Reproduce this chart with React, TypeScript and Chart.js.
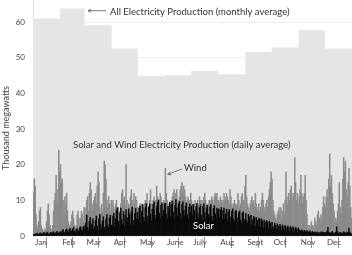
import React, { useEffect, useRef } from 'react';
import { Chart, registerables } from 'chart.js';

Chart.register(...registerables);

const monthLabels = ['Jan', 'Feb', 'Mar', 'Apr', 'May', 'June', 'July', 'Aug', 'Sept', 'Oct', 'Nov', 'Dec'];
const monthStartDays = [0, 31, 59, 90, 120, 151, 181, 212, 243, 273, 304, 334];
const yearDays = 365;
const monthlyAverage = [61, 63.8, 59.1, 52.6, 44.9, 45.1, 46.3, 45.4, 51.6, 52.9, 57.7, 52.6];
const yTicks = [0, 10, 20, 30, 40, 50, 60];

const windJan = [12, 16, 14, 6, 3, 2, 4, 7, 8, 3, 2, 1.5, 1, 2, 1.5, 4, 7, 9, 6, 3, 2, 1.5, 3, 7, 10, 12, 17, 13, 9, 24, 18];
const windFeb = [20, 15, 16, 10, 6, 11, 9, 12, 7, 4, 3, 2, 4, 6, 7, 5, 3, 2, 3, 6, 7, 5, 3, 5, 7, 6, 4, 8];
const windMar = [8, 6, 10, 11, 7, 12, 15, 13, 9, 7, 10, 11, 12, 9, 14, 18, 15, 8, 6, 9, 7, 12, 21, 20, 16, 10, 8, 11, 9, 7, 10];
const windApr = [9, 10, 8, 6, 9, 10, 7, 8, 6, 7, 9, 12, 13, 10, 11, 8, 20, 10, 7, 9, 8, 11, 13, 10, 8, 12, 9, 11, 10, 8];
const windMay = [7, 8, 9, 8, 9, 7, 8, 9, 10, 9, 12, 8, 7, 10, 13, 9, 8, 10, 11, 9, 10, 14, 11, 9, 10, 12, 11, 9, 8, 10, 9];
const windJun = [19, 12, 10, 9, 8, 7, 9, 10, 11, 12, 13, 11, 12, 13, 10, 9, 11, 13, 14, 15, 12, 14, 13, 11, 9, 10, 11, 9, 10, 12];
const windJul = [10, 9, 8, 9, 10, 8, 9, 10, 9, 11, 10, 9, 10, 9, 11, 12, 10, 9, 8, 9, 10, 9, 10, 11, 10, 9, 11, 12, 11, 12, 10];
const windAug = [10, 9, 11, 10, 9, 10, 12, 11, 10, 12, 11, 10, 9, 13, 11, 9, 8, 9, 10, 9, 8, 9, 12, 10, 8, 9, 11, 12, 10, 8, 14];
const windSep = [17, 11, 9, 8, 7, 9, 10, 11, 9, 10, 8, 12, 9, 7, 8, 9, 7, 8, 10, 12, 10, 8, 7, 9, 10, 8, 11, 13, 15, 18];
const windOct = [16, 10, 7, 6, 5, 4, 6, 7, 8, 6, 8, 5, 7, 9, 6, 10, 18, 11, 9, 12, 10, 13, 14, 10, 12, 11, 22, 15, 10, 12, 9];
const windNov = [11, 13, 17, 12, 9, 11, 12, 17, 10, 6, 3, 2, 3, 2, 4, 3, 2, 3, 5, 4, 3, 6, 7, 5, 4, 6, 5, 8, 11, 9];
const windDec = [8, 11, 13, 10, 16, 23, 14, 17, 12, 9, 7, 4, 5, 4, 7, 9, 15, 8, 6, 10, 16, 22, 18, 21, 13, 11, 15, 19, 14, 8, 5];

const solarJan = [0.4, 0.5, 0.3, 0.6, 0.8, 0.5, 0.4, 0.7, 0.9, 0.6, 0.5, 0.8, 1.0, 0.7, 0.5, 0.9, 1.1, 0.6, 0.4, 0.8, 1.0, 0.7, 0.9, 1.2, 0.8, 0.6, 1.0, 1.3, 0.9, 0.7, 1.1];
const solarFeb = [1.2, 0.9, 1.5, 1.8, 1.1, 0.8, 1.6, 2.0, 1.4, 1.0, 1.7, 2.2, 1.5, 1.2, 1.9, 2.4, 1.3, 1.0, 1.8, 2.1, 1.6, 1.2, 2.3, 2.6, 1.7, 1.4, 2.5, 2.8];
const solarMar = [1.8, 3.6, 5.9, 2.4, 1.5, 4.1, 5.2, 2.2, 3.4, 4.8, 1.9, 2.6, 4.4, 5.6, 2.8, 1.6, 4.9, 6.1, 3.2, 2.0, 4.2, 5.4, 2.5, 1.8, 4.6, 6.0, 3.1, 2.3, 5.1, 5.8, 3.0];
const solarApr = [3.1, 5.6, 6.4, 2.7, 4.9, 7.2, 7.9, 4.1, 3.0, 6.5, 7.8, 4.6, 3.4, 6.9, 2.8, 5.9, 7.4, 3.9, 5.1, 7.6, 6.0, 3.2, 6.8, 8.1, 4.4, 2.9, 6.3, 7.7, 4.8, 6.6];
const solarMay = [4.6, 7.8, 8.4, 3.9, 6.9, 8.8, 5.2, 4.1, 7.9, 9.1, 5.6, 3.8, 8.2, 9.0, 6.1, 4.3, 7.5, 8.9, 9.6, 5.8, 4.7, 8.3, 9.4, 10.1, 6.4, 5.0, 8.6, 9.3, 5.5, 7.2, 9.0];
const solarJun = [9.2, 6.1, 4.8, 8.3, 7.0, 9.5, 5.4, 8.9, 9.8, 6.7, 4.9, 8.6, 10.2, 7.8, 5.6, 9.0, 9.7, 6.3, 5.1, 8.8, 9.6, 7.2, 5.8, 8.4, 9.3, 6.0, 4.7, 8.1, 9.0, 6.5];
const solarJul = [8.4, 5.9, 8.9, 7.1, 4.6, 8.2, 9.1, 6.3, 4.9, 8.0, 8.7, 5.8, 4.4, 8.3, 9.0, 6.6, 4.8, 7.9, 8.6, 6.0, 5.2, 8.1, 8.8, 5.5, 4.3, 7.7, 8.5, 6.2, 4.9, 7.8, 7.2];
const solarAug = [7.6, 5.1, 7.3, 8.0, 4.6, 7.1, 7.8, 5.0, 6.2, 7.5, 4.3, 6.8, 7.4, 5.4, 3.9, 7.0, 7.6, 4.8, 4.1, 6.9, 7.2, 5.1, 3.8, 6.6, 7.0, 4.5, 3.6, 6.4, 6.8, 4.7, 3.9];
const solarSep = [6.3, 4.2, 3.5, 6.0, 5.4, 3.1, 5.8, 4.6, 2.9, 5.5, 5.0, 2.7, 5.2, 4.4, 2.6, 5.0, 4.7, 2.4, 4.8, 4.2, 2.3, 4.5, 4.0, 2.2, 4.3, 3.8, 2.0, 4.1, 3.6, 2.1];
const solarOct = [3.8, 2.6, 1.9, 3.6, 3.0, 1.7, 3.4, 2.8, 1.6, 3.3, 2.7, 1.5, 3.1, 2.5, 1.4, 3.0, 2.4, 1.3, 2.8, 2.3, 1.2, 2.7, 2.2, 1.2, 2.6, 2.0, 1.1, 2.4, 1.9, 1.0, 2.3];
const solarNov = [1.8, 1.5, 1.3, 1.7, 1.4, 1.1, 1.6, 1.3, 1.0, 1.5, 1.2, 0.9, 1.4, 1.1, 0.8, 1.3, 1.0, 0.9, 1.2, 1.0, 0.8, 1.1, 0.9, 0.7, 1.0, 1.2, 0.8, 1.1, 0.9, 1.0];
const solarDec = [0.8, 1.0, 1.4, 2.4, 1.1, 0.9, 0.7, 1.0, 1.3, 0.8, 0.6, 0.9, 1.1, 2.6, 1.2, 0.8, 0.7, 1.0, 0.9, 0.6, 0.8, 1.2, 1.0, 0.7, 0.9, 1.1, 0.8, 2.2, 1.0, 0.7, 0.6];

const wind = [...windJan, ...windFeb, ...windMar, ...windApr, ...windMay, ...windJun, ...windJul, ...windAug, ...windSep, ...windOct, ...windNov, ...windDec];
const solar = [...solarJan, ...solarFeb, ...solarMar, ...solarApr, ...solarMay, ...solarJun, ...solarJul, ...solarAug, ...solarSep, ...solarOct, ...solarNov, ...solarDec];

const FONT = 'Lato, "Open Sans", sans-serif';

function arrow(ctx: CanvasRenderingContext2D, x1: number, y1: number, x2: number, y2: number) {
  ctx.beginPath();
  ctx.moveTo(x1, y1);
  ctx.lineTo(x2, y2);
  ctx.stroke();
  const a = Math.atan2(y2 - y1, x2 - x1);
  const L = 3.5;
  ctx.beginPath();
  ctx.moveTo(x2, y2);
  ctx.lineTo(x2 - L * Math.cos(a - 0.5), y2 - L * Math.sin(a - 0.5));
  ctx.moveTo(x2, y2);
  ctx.lineTo(x2 - L * Math.cos(a + 0.5), y2 - L * Math.sin(a + 0.5));
  ctx.stroke();
}

const annotations = {
  id: 'annotations',
  afterDraw(chart: any) {
    const ctx: CanvasRenderingContext2D = chart.ctx;
    const xs = chart.scales.x;
    const ys = chart.scales.y;
    ctx.save();
    ctx.textBaseline = 'middle';
    ctx.textAlign = 'left';
    ctx.fillStyle = '#333';
    ctx.font = `9.5px ${FONT}`;
    ctx.fillText('All Electricity Production (monthly average)', 110, ys.getPixelForValue(62.8));
    ctx.fillText('Solar and Wind Electricity Production (daily average)', 73, ys.getPixelForValue(25.5));
    ctx.fillText('Wind', 184, ys.getPixelForValue(19));
    ctx.fillStyle = '#fff';
    ctx.fillText('Solar', 193, ys.getPixelForValue(2.8));
    ctx.strokeStyle = '#555';
    ctx.lineWidth = 0.8;
    arrow(ctx, 106, ys.getPixelForValue(63.2), 88, ys.getPixelForValue(63.2));
    arrow(ctx, 182, ys.getPixelForValue(18.8), xs.getPixelForValue(152.5) + 1.5, ys.getPixelForValue(17.3));
    // y axis title
    ctx.translate(6, (ys.top + ys.bottom) / 2 + 10);
    ctx.rotate(-Math.PI / 2);
    ctx.textAlign = 'center';
    ctx.fillStyle = '#444';
    ctx.font = `9px ${FONT}`;
    ctx.fillText('Thousand megawatts', 0, 0);
    ctx.restore();
  },
};

export default function App() {
  const ref = useRef<HTMLCanvasElement>(null);
  useEffect(() => {
    document.body.style.margin = '0';
    const monthly = monthStartDays.map((d, i) => ({ x: d, y: monthlyAverage[i] }));
    monthly.push({ x: yearDays, y: monthlyAverage[monthlyAverage.length - 1] });
    const chart = new Chart(ref.current!, {
      type: 'bar',
      data: {
        datasets: [
          {
            type: 'bar',
            label: 'Solar',
            data: solar.map((v, i) => ({ x: i + 0.5, y: v })),
            backgroundColor: '#0b0b0b',
            borderWidth: 0,
            barPercentage: 1,
            categoryPercentage: 1,
            grouped: false,
            order: 1,
          } as any,
          {
            type: 'bar',
            label: 'Wind',
            data: wind.map((v, i) => ({ x: i + 0.5, y: v })),
            backgroundColor: '#8a8a8a',
            borderWidth: 0,
            barPercentage: 1,
            categoryPercentage: 1,
            grouped: false,
            order: 2,
          } as any,
          {
            type: 'line',
            label: 'All Electricity Production',
            data: monthly,
            stepped: true,
            fill: 'origin',
            backgroundColor: '#e5e5e5',
            borderColor: 'rgba(0,0,0,0)',
            borderWidth: 0,
            pointRadius: 0,
            order: 3,
          } as any,
        ],
      },
      options: {
        animation: false,
        responsive: false,
        devicePixelRatio: 1,
        layout: { padding: 0 },
        plugins: { legend: { display: false }, tooltip: { enabled: false } },
        scales: {
          x: {
            type: 'linear',
            min: 0,
            max: yearDays,
            offset: false,
            afterBuildTicks: (s: any) => {
              s.ticks = monthStartDays.map((v) => ({ value: v }));
            },
            afterFit: (s: any) => {
              s.height = 19;
              s.paddingLeft = 0;
              s.paddingRight = 0;
            },
            grid: { drawOnChartArea: false, drawTicks: true, tickLength: 12, color: '#777', lineWidth: 0.8 },
            border: { display: false },
            ticks: {
              autoSkip: false,
              maxRotation: 0,
              minRotation: 0,
              align: 'start',
              padding: -10,
              color: '#444',
              font: { family: FONT, size: 8 },
              callback: (_v: any, i: number) => ' ' + monthLabels[i],
            },
          },
          y: {
            min: 0,
            max: 66.2,
            afterBuildTicks: (s: any) => {
              s.ticks = yTicks.map((v) => ({ value: v }));
            },
            afterFit: (s: any) => {
              s.width = 33;
              s.paddingTop = 0;
              s.paddingBottom = 0;
            },
            grid: { color: '#ececec', drawTicks: false },
            border: { color: '#dcdcdc' },
            ticks: { padding: 8, color: '#444', font: { family: FONT, size: 8 } },
          },
        },
      } as any,
      plugins: [annotations],
    });
    return () => chart.destroy();
  }, []);
  return (
    <div style={{ width: 352, height: 255, overflow: 'hidden', background: '#fff' }}>
      <canvas ref={ref} width={352} height={255} style={{ display: 'block' }} />
    </div>
  );
}
